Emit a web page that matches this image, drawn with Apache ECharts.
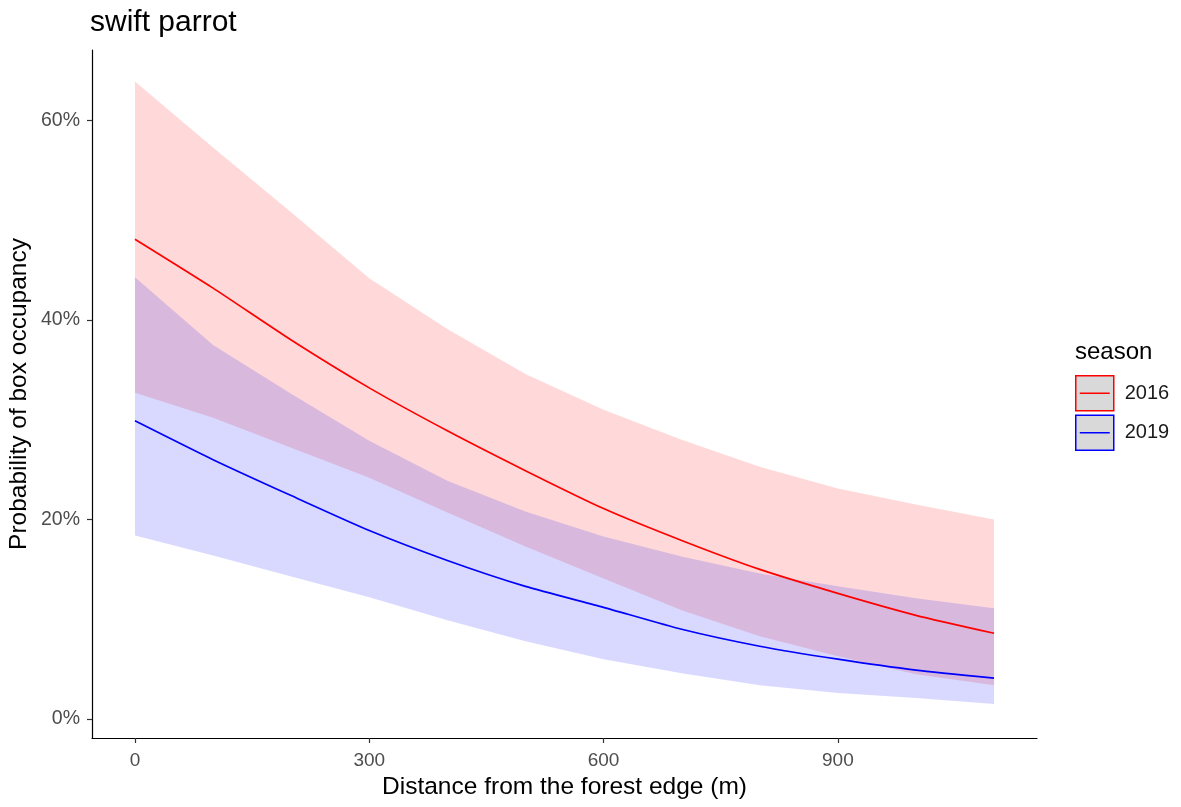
<!DOCTYPE html>
<html>
<head>
<meta charset="utf-8">
<script src="https://cdn.jsdelivr.net/npm/echarts@6/dist/echarts.min.js"></script>
<style>
  html, body { margin: 0; padding: 0; background: #fff; }
  #main { width: 1181px; height: 807px; }
</style>
</head>
<body>
<div id="main"></div>
<script>
// distance from forest edge (m)
var dist = [0, 100, 200, 300, 400, 500, 600, 700, 800, 900, 1000, 1100];

// 2016 season: fitted probability and ribbon (%)
var fit2016 = [48.1, 43.2, 38.0, 33.2, 28.9, 24.9, 21.1, 17.9, 15.0, 12.6, 10.4, 8.6];
var lo2016  = [32.7, 30.2, 27.2, 24.2, 20.7, 17.3, 14.1, 10.9, 8.3, 6.3, 4.5, 3.4];
var hi2016  = [63.9, 57.3, 50.8, 44.2, 39.1, 34.6, 31.0, 28.0, 25.3, 23.1, 21.5, 20.0];

// 2019 season
var fit2019 = [29.9, 26.0, 22.4, 18.9, 15.9, 13.3, 11.2, 9.0, 7.3, 6.0, 4.9, 4.1];
var lo2019  = [18.4, 16.4, 14.3, 12.2, 9.9, 7.8, 6.0, 4.6, 3.4, 2.6, 2.1, 1.5];
var hi2019  = [44.3, 37.5, 32.6, 27.9, 23.9, 20.8, 18.3, 16.3, 14.6, 13.3, 12.1, 11.1];

var xTicks = [0, 300, 600, 900];
var yTicks = [0, 20, 40, 60];

var chart = echarts.init(document.getElementById('main'));
var font = 'Liberation Sans, Arial, sans-serif';

function fitLine(name, v, col) {
  return {
    name: name, type: 'line', symbol: 'none', smooth: 0.2,
    data: dist.map(function (d, i) { return [d, v[i]]; }),
    color: col,
    lineStyle: { color: col, width: 1.7 }
  };
}

// ribbon drawn as one polygon through the axes' coord()
function band(name, lo, hi, fill) {
  return {
    name: name, type: 'custom', silent: true,
    data: dist.map(function (d, i) { return [d, lo[i], hi[i]]; }),
    encode: { x: 0, y: [1, 2] },
    renderItem: function (params, api) {
      if (params.dataIndex !== 0) return;
      var pts = [];
      for (var i = 0; i < dist.length; i++) pts.push(api.coord([dist[i], hi[i]]));
      for (var j = dist.length - 1; j >= 0; j--) pts.push(api.coord([dist[j], lo[j]]));
      return { type: 'polygon', shape: { points: pts }, style: { fill: fill } };
    }
  };
}

var option = {
  backgroundColor: '#FFFFFF',
  animation: false,
  title: [
    {
      text: 'swift parrot', left: 90, top: 8, padding: 0,
      textStyle: { fontFamily: font, fontSize: 30, fontWeight: 'normal', color: '#000' }
    },
    {
      text: 'season', left: 1075, top: 340, padding: 0,
      textStyle: { fontFamily: font, fontSize: 24, fontWeight: 'normal', color: '#000' }
    }
  ],
  legend: {
    orient: 'vertical',
    left: 1075, top: 375, padding: 0,
    itemWidth: 38, itemHeight: 35, itemGap: 3,
    selectedMode: false,
    icon: 'path://M0,0H38V35H0ZM4,17.5H34',
    textStyle: { fontFamily: font, fontSize: 20, color: '#1a1a1a', padding: [0, 0, 0, 6] },
    data: [
      { name: '2016', itemStyle: { color: '#D9D9D9', borderColor: '#FF0000', borderWidth: 1.5 } },
      { name: '2019', itemStyle: { color: '#D9D9D9', borderColor: '#0000FF', borderWidth: 1.5 } }
    ]
  },
  grid: { left: 92, right: 144, top: 50, bottom: 69, containLabel: false, outerBoundsMode: 'none' },
  xAxis: {
    type: 'value',
    min: -55, max: 1155,
    name: 'Distance from the forest edge (m)',
    nameLocation: 'middle', nameGap: 37, nameMoveOverlap: false,
    nameTextStyle: { fontFamily: font, fontSize: 24.5, color: '#000' },
    axisLine: { show: true, onZero: false, lineStyle: { color: '#000', width: 1.2 } },
    axisTick: { show: true, length: 5, customValues: xTicks, lineStyle: { color: '#333', width: 1.2 } },
    axisLabel: { customValues: xTicks, margin: 13, fontFamily: font, fontSize: 19, color: '#4D4D4D' },
    splitLine: { show: false }
  },
  yAxis: {
    type: 'value',
    min: -1.9, max: 67.07,
    name: 'Probability of box occupancy',
    nameLocation: 'middle', nameGap: 60, nameMoveOverlap: false,
    nameTextStyle: { fontFamily: font, fontSize: 24.5, color: '#000' },
    axisLine: { show: true, onZero: false, lineStyle: { color: '#000', width: 1.2 } },
    axisTick: { show: true, length: 5, customValues: yTicks, lineStyle: { color: '#333', width: 1.2 } },
    axisLabel: { customValues: yTicks, margin: 12, fontFamily: font, fontSize: 19.5, color: '#4D4D4D', formatter: '{value}%' },
    splitLine: { show: false }
  },
  series: [
    fitLine('2016', fit2016, '#FF0000'),
    fitLine('2019', fit2019, '#0000FF'),
    band('ci2016', lo2016, hi2016, 'rgba(255,0,0,0.15)'),
    band('ci2019', lo2019, hi2019, 'rgba(0,0,255,0.15)')
  ]
};

chart.setOption(option);
window.addEventListener('resize', function () {
  chart.resize();
});
</script>
</body>
</html>
